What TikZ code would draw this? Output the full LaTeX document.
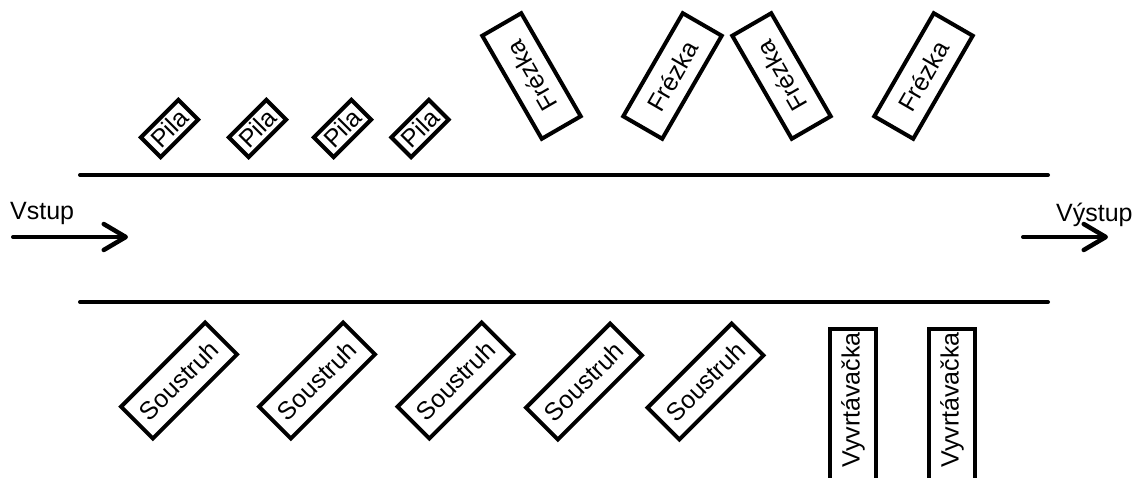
\documentclass[tikz,border=0pt]{standalone}
\usepackage{fontspec}
\setmainfont{Liberation Sans}
\usetikzlibrary{arrows.meta}
\begin{document}
\begin{tikzpicture}[x=1pt,y=-1pt,
  every node/.style={font=\fontsize{25}{29}\selectfont, inner sep=0pt},
  machine/.style={draw, line width=4pt, rectangle},
  pilabox/.style={machine, minimum width=53pt, minimum height=28pt, rotate=45},
  frbox/.style={machine, minimum width=119pt, minimum height=45pt},
  soubox/.style={machine, minimum width=119pt, minimum height=45pt, rotate=45},
  vrtbox/.style={machine, minimum width=170pt, minimum height=46pt, rotate=90},
  rail/.style={line width=4pt, line cap=round},
  flow/.style={line width=4pt, line cap=round, -{Straight Barb[length=22pt,width=26pt,line width=4.5pt,round]}}]
\useasboundingbox (0,0) rectangle (1138,477);
% rails
\coordinate (t1) at (80,175);
\coordinate (t2) at (1048,175);
\coordinate (b1) at (80,302);
\coordinate (b2) at (1048,302);
\draw[rail] (t1) -- (t2);
\draw[rail] (b1) -- (b2);
% input / output
\node[anchor=base west] (vin) at (10,219) {Vstup};
\node[anchor=base west] (vout) at (1056,221) {Výstup};
\coordinate (ina) at (13,237);
\coordinate (inb) at (128,237);
\coordinate (outa) at (1023,237);
\coordinate (outb) at (1108,237);
\draw[flow] (ina) -- (inb);
\draw[flow] (outa) -- (outb);
% Pila
\node[pilabox] (p1) at (169.5,128.5) {Pila};
\node[pilabox] (p2) at (257.5,128.5) {Pila};
\node[pilabox] (p3) at (342.5,128.5) {Pila};
\node[pilabox] (p4) at (420,128.5) {Pila};
% Frezka
\node[frbox, rotate=120] (f1) at (531.5,76) {Frézka};
\node[frbox, rotate=60] (f2) at (672.5,76) {Frézka};
\node[frbox, rotate=120] (f3) at (781.5,76) {Frézka};
\node[frbox, rotate=60] (f4) at (923.5,76) {Frézka};
% Soustruh
\node[soubox] (s1) at (179,380.5) {Soustruh};
\node[soubox] (s2) at (317,380.5) {Soustruh};
\node[soubox] (s3) at (455.5,380.5) {Soustruh};
\node[soubox] (s4) at (584,381.5) {Soustruh};
\node[soubox] (s5) at (705.5,381.5) {Soustruh};
% Vyvrtavacka
\node[vrtbox] (v1) at (853,414) {\hspace*{28pt}Vyvrtávačka};
\node[vrtbox] (v2) at (952,414) {\hspace*{28pt}Vyvrtávačka};
\end{tikzpicture}
\end{document}
